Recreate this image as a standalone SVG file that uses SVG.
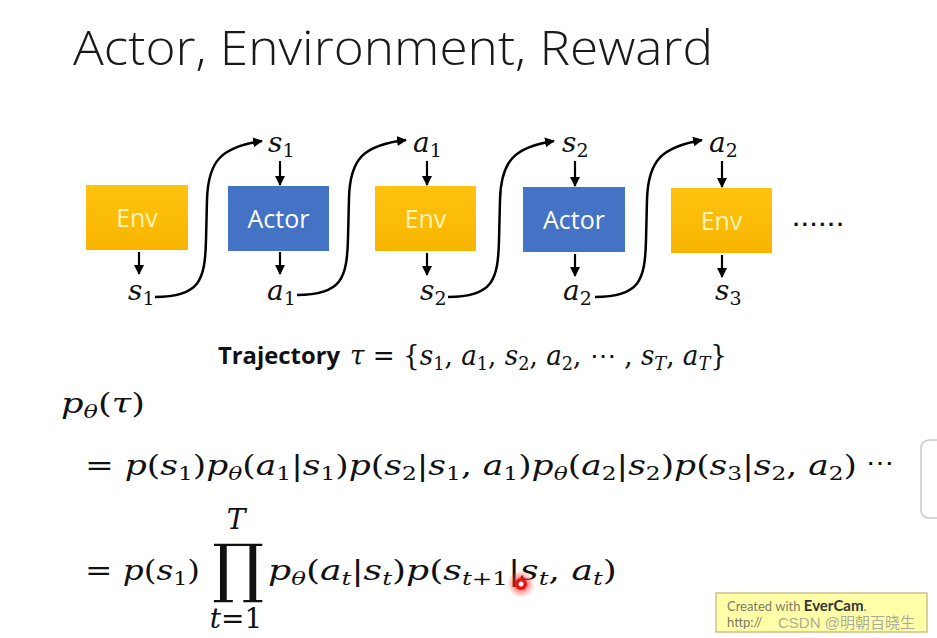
<svg xmlns="http://www.w3.org/2000/svg" width="937" height="638" viewBox="0 0 937 638">
<style>
.title{font-family:"Open Sans","Liberation Sans",sans-serif;font-weight:300;font-size:47px;fill:#1a1a1a}
.box-env{fill:url(#gEnv)}
.box-act{fill:#4472C4}
.lbl-env{font-family:"Open Sans","Liberation Sans",sans-serif;font-size:25px;fill:#FFF4B8;text-anchor:middle}
.lbl-act{font-family:"Open Sans","Liberation Sans",sans-serif;font-size:25px;fill:#FFFFFF;text-anchor:middle}
.m{font-family:"DejaVu Serif","Liberation Serif",serif;font-size:28px;fill:#111}
.i{font-style:italic}
.sb{font-size:19px}
.bold{font-family:"Open Sans","Liberation Sans",sans-serif;font-weight:bold;font-size:24px;fill:#111}
.wire{fill:none;stroke:#000;stroke-width:2.5}
.down{stroke:#000;stroke-width:2.2}
</style>
<defs>
<linearGradient id="gEnv" x1="0" y1="0" x2="0" y2="1">
<stop offset="0" stop-color="#FFC20E"/>
<stop offset="1" stop-color="#F7B500"/>
</linearGradient>
<marker id="ah" viewBox="0 0 10 10" refX="9" refY="5" markerWidth="10" markerHeight="10" markerUnits="userSpaceOnUse" orient="auto">
<path d="M0,0 L10,5 L0,10 z" fill="#000"/>
</marker>
<radialGradient id="glow">
<stop offset="0" stop-color="#ff2020" stop-opacity="0.9"/>
<stop offset="0.5" stop-color="#ff3030" stop-opacity="0.5"/>
<stop offset="1" stop-color="#ff6060" stop-opacity="0"/>
</radialGradient>
</defs>
<rect width="937" height="638" fill="#fff"/>

<text x="73" y="65" class="title" textLength="640" lengthAdjust="spacingAndGlyphs">Actor, Environment, Reward</text>

<g id="env1"><rect x="86" y="185" width="102" height="65" class="box-env"/><text x="137" y="227" class="lbl-env">Env</text></g>
<g id="actor1"><rect x="228" y="186" width="101" height="65" class="box-act"/><text x="278.5" y="228" class="lbl-act">Actor</text></g>
<g id="env2"><rect x="375" y="186" width="101" height="65" class="box-env"/><text x="425.5" y="228" class="lbl-env">Env</text></g>
<g id="actor2"><rect x="523" y="187" width="102" height="65" class="box-act"/><text x="574" y="229" class="lbl-act">Actor</text></g>
<g id="env3"><rect x="671" y="188" width="101" height="65" class="box-env"/><text x="721.5" y="230" class="lbl-env">Env</text></g>

<g id="labels">
<text x="268" y="152" class="m"><tspan class="i">s</tspan><tspan class="sb" dy="5">1</tspan></text>
<text x="413" y="152" class="m"><tspan class="i">a</tspan><tspan class="sb" dy="5">1</tspan></text>
<text x="562" y="152" class="m"><tspan class="i">s</tspan><tspan class="sb" dy="5">2</tspan></text>
<text x="709" y="152" class="m"><tspan class="i">a</tspan><tspan class="sb" dy="5">2</tspan></text>
<text x="128" y="300" class="m"><tspan class="i">s</tspan><tspan class="sb" dy="5">1</tspan></text>
<text x="267" y="300" class="m"><tspan class="i">a</tspan><tspan class="sb" dy="5">1</tspan></text>
<text x="420" y="300" class="m"><tspan class="i">s</tspan><tspan class="sb" dy="5">2</tspan></text>
<text x="563" y="300" class="m"><tspan class="i">a</tspan><tspan class="sb" dy="5">2</tspan></text>
<text x="715" y="300" class="m"><tspan class="i">s</tspan><tspan class="sb" dy="5">3</tspan></text>
</g>
<text x="793" y="226" font-family="Liberation Sans,sans-serif" font-weight="bold" font-size="22" fill="#111" textLength="50" lengthAdjust="spacing">......</text>

<g id="connectors">
<line x1="139" y1="252" x2="139" y2="274" class="down" marker-end="url(#ah)"/>
<line x1="280" y1="161" x2="280" y2="185" class="down" marker-end="url(#ah)"/>
<line x1="280" y1="252" x2="280" y2="274" class="down" marker-end="url(#ah)"/>
<line x1="427" y1="161" x2="427" y2="185" class="down" marker-end="url(#ah)"/>
<line x1="427" y1="253" x2="427" y2="275" class="down" marker-end="url(#ah)"/>
<line x1="575" y1="161" x2="575" y2="186" class="down" marker-end="url(#ah)"/>
<line x1="575" y1="254" x2="575" y2="276" class="down" marker-end="url(#ah)"/>
<line x1="722" y1="161" x2="722" y2="187" class="down" marker-end="url(#ah)"/>
<line x1="722" y1="255" x2="722" y2="277" class="down" marker-end="url(#ah)"/>
<path transform="translate(155,297)" d="M0,0 C45,0 50,-17 51,-57 L52,-97 C53,-137 67,-150 107,-156" class="wire" marker-end="url(#ah)"/>
<path transform="translate(297,295)" d="M0,0 C45,0 50,-17 51,-57 L52,-97 C53,-137 67,-150 109,-155" class="wire" marker-end="url(#ah)"/>
<path transform="translate(448,297)" d="M0,0 C45,0 50,-17 51,-57 L52,-97 C53,-137 67,-150 106,-156" class="wire" marker-end="url(#ah)"/>
<path transform="translate(595,297)" d="M0,0 C45,0 50,-17 51,-57 L52,-97 C53,-137 67,-150 107,-157" class="wire" marker-end="url(#ah)"/>
</g>

<text x="218" y="364" class="bold" textLength="122" lengthAdjust="spacingAndGlyphs">Trajectory</text>
<text x="350" y="365" class="m" textLength="377" lengthAdjust="spacingAndGlyphs"><tspan class="i">τ</tspan> = {<tspan class="i">s</tspan><tspan class="sb" dy="5">1</tspan><tspan dy="-5">, </tspan><tspan class="i">a</tspan><tspan class="sb" dy="5">1</tspan><tspan dy="-5">, </tspan><tspan class="i">s</tspan><tspan class="sb" dy="5">2</tspan><tspan dy="-5">, </tspan><tspan class="i">a</tspan><tspan class="sb" dy="5">2</tspan><tspan dy="-5">, ⋯ , </tspan><tspan class="i">s</tspan><tspan class="sb i" dy="5">T</tspan><tspan dy="-5">, </tspan><tspan class="i">a</tspan><tspan class="sb i" dy="5">T</tspan><tspan dy="-5">}</tspan></text>

<text x="61" y="413" class="m" font-size="30" textLength="84" lengthAdjust="spacingAndGlyphs"><tspan class="i">p</tspan><tspan class="sb i" dy="5">θ</tspan><tspan dy="-5">(</tspan><tspan class="i">τ</tspan>)</text>

<text x="85" y="475" class="m" textLength="772" lengthAdjust="spacingAndGlyphs">= <tspan class="i">p</tspan>(<tspan class="i">s</tspan><tspan class="sb" dy="5">1</tspan><tspan dy="-5">)</tspan><tspan class="i">p</tspan><tspan class="sb i" dy="5">θ</tspan><tspan dy="-5">(</tspan><tspan class="i">a</tspan><tspan class="sb" dy="5">1</tspan><tspan dy="-5">|</tspan><tspan class="i">s</tspan><tspan class="sb" dy="5">1</tspan><tspan dy="-5">)</tspan><tspan class="i">p</tspan>(<tspan class="i">s</tspan><tspan class="sb" dy="5">2</tspan><tspan dy="-5">|</tspan><tspan class="i">s</tspan><tspan class="sb" dy="5">1</tspan><tspan dy="-5">, </tspan><tspan class="i">a</tspan><tspan class="sb" dy="5">1</tspan><tspan dy="-5">)</tspan><tspan class="i">p</tspan><tspan class="sb i" dy="5">θ</tspan><tspan dy="-5">(</tspan><tspan class="i">a</tspan><tspan class="sb" dy="5">2</tspan><tspan dy="-5">|</tspan><tspan class="i">s</tspan><tspan class="sb" dy="5">2</tspan><tspan dy="-5">)</tspan><tspan class="i">p</tspan>(<tspan class="i">s</tspan><tspan class="sb" dy="5">3</tspan><tspan dy="-5">|</tspan><tspan class="i">s</tspan><tspan class="sb" dy="5">2</tspan><tspan dy="-5">, </tspan><tspan class="i">a</tspan><tspan class="sb" dy="5">2</tspan><tspan dy="-5">)</tspan></text>
<text x="866" y="472" class="m" font-size="24">⋯</text>

<text x="85" y="580" class="m" textLength="115" lengthAdjust="spacingAndGlyphs">= <tspan class="i">p</tspan>(<tspan class="i">s</tspan><tspan class="sb" dy="5">1</tspan><tspan dy="-5">)</tspan></text>
<text x="236" y="529" class="m i" font-size="20" text-anchor="middle">T</text>
<text x="212" y="590" font-family="DejaVu Serif,serif" font-size="62" fill="#111" transform="translate(212,590) scale(1.05,1.04) translate(-212,-590)">∏</text>
<text x="236" y="628" class="m" font-size="20" text-anchor="middle"><tspan class="i">t</tspan>=1</text>
<text x="268" y="580" class="m" textLength="349" lengthAdjust="spacingAndGlyphs"><tspan class="i">p</tspan><tspan class="sb i" dy="5">θ</tspan><tspan dy="-5">(</tspan><tspan class="i">a</tspan><tspan class="sb i" dy="5">t</tspan><tspan dy="-5">|</tspan><tspan class="i">s</tspan><tspan class="sb i" dy="5">t</tspan><tspan dy="-5">)</tspan><tspan class="i">p</tspan>(<tspan class="i">s</tspan><tspan class="sb" dy="5"><tspan class="i">t</tspan>+1</tspan><tspan dy="-5">|</tspan><tspan class="i">s</tspan><tspan class="sb i" dy="5">t</tspan><tspan dy="-5">, </tspan><tspan class="i">a</tspan><tspan class="sb i" dy="5">t</tspan><tspan dy="-5">)</tspan></text>

<circle cx="521" cy="584" r="14" fill="url(#glow)"/>
<circle cx="521" cy="584" r="6" fill="#ee1111"/>
<circle cx="521" cy="584" r="2.5" fill="#fff"/>

<rect x="921" y="440" width="24" height="78" rx="8" fill="#fff" stroke="#c8c8c8" stroke-width="1.5"/>

<g id="watermark">
<rect x="716" y="593" width="211" height="39" fill="#FFFFA8" stroke="#C9C28A" stroke-width="1.5"/>
<text x="727" y="611" font-family="Lato,Liberation Sans,sans-serif" font-size="13" fill="#7a7a6a">Created with <tspan font-weight="bold" font-size="15" fill="#333">EverCam</tspan>.</text>
<text x="727" y="627" font-family="Lato,Liberation Sans,sans-serif" font-size="13" fill="#7a7a6a">http://</text>
<text x="778" y="628" font-family="Liberation Sans,Noto Sans CJK SC,sans-serif" font-size="15" fill="#9a9a9a" fill-opacity="0.85">CSDN @明朝百晓生</text>
</g>
</svg>
